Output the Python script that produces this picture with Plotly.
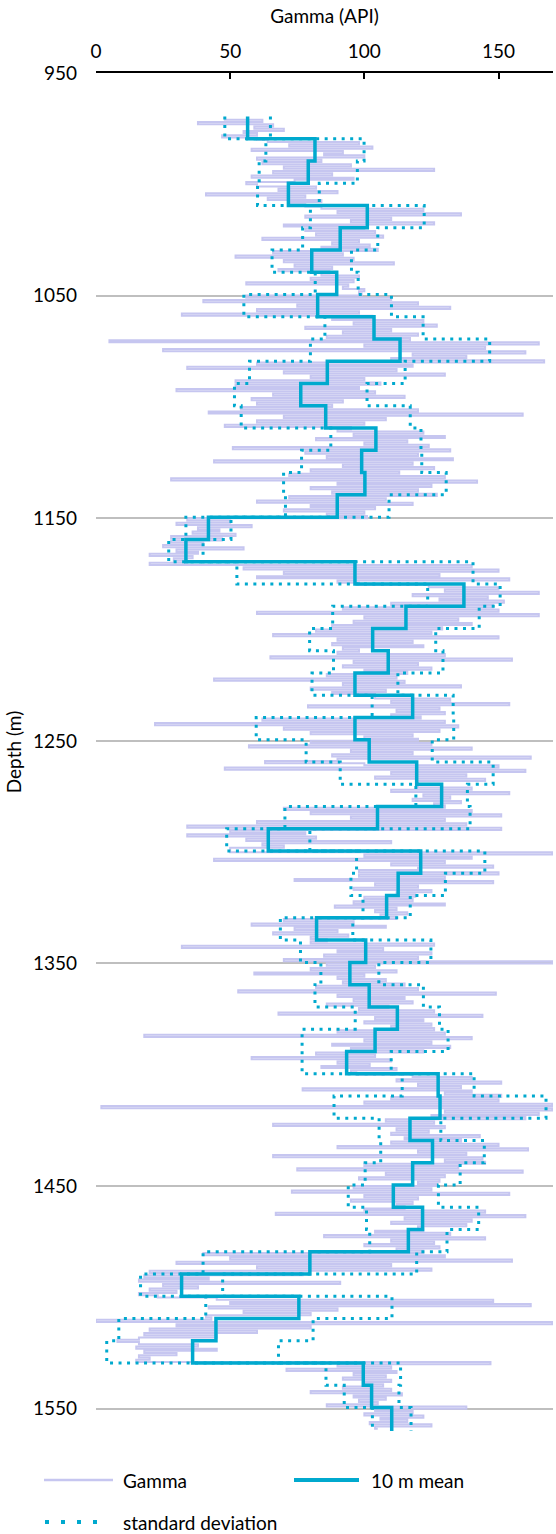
import numpy as np
import plotly.graph_objects as go

# ---------------- data ----------------
# top depth of each 10 m averaging interval (m)
interval_top_m = [969.5 + 10 * k for k in range(59)]
interval_bottom_m = 1561.0

mean_api = [56.5, 81.6, 79.1, 71.7, 101.1, 91.0, 80.4, 89.7,
            82.6, 103.6, 113.3, 86.2, 76.3, 85.6, 104.3, 99.0, 100.2, 89.9,
            41.9, 33.5, 96.5, 137.1, 115.5, 103.1, 108.9, 96.5, 118.0, 96.5,
            101.8, 119.5, 128.8, 104.9, 64.2, 121.0, 112.6, 108.3, 82.2, 100.5,
            94.6, 101.8, 112.3, 104.0, 93.4, 127.5, 128.2, 117.0, 125.4, 118.0,
            110.8, 121.7, 116.4, 79.7, 31.9, 75.6, 44.7, 36.0, 99.6, 102.7, 110.2]

std_api = [8.5, 18.3, 18.3, 11.5, 21.2, 14.0, 14.8, 8.0,
           27.5, 18.3, 33.4, 29.0, 24.7, 31.5, 16.8, 22.4, 30.3, 19.3,
           8.4, 6.4, 44.0, 13.5, 27.3, 23.5, 20.4, 16.0, 15.1, 36.8,
           23.5, 28.5, 9.6, 34.5, 15.5, 23.9, 17.6, 8.8, 13.5, 24.3,
           10.8, 20.2, 15.7, 27.2, 16.6, 13.4, 39.5, 11.5, 19.3, 17.7,
           16.8, 20.9, 14.4, 39.8, 15.3, 34.7, 36.2, 32.0, 13.9, 10.2, 7.2]

# gamma log, one row per 10 m interval, sampled every 1 m
gamma_api = [
    48, 62, 38, 66, 59, 70, 55, 60, 47, 60,
    64, 98, 72, 103, 58, 92, 85, 100, 60, 84,
    62, 95, 70, 126, 66, 88, 58, 96, 74, 56,
    60, 82, 68, 90, 41, 78, 64, 84, 72, 78,
    84, 122, 90, 136, 78, 110, 95, 126, 70, 100,
    78, 104, 82, 107, 62, 98, 88, 102, 84, 105,
    66, 92, 52, 96, 70, 111, 74, 88, 68, 87,
    84, 98, 80, 96, 56, 94, 92, 100, 98, 99,
    56, 110, 40, 120, 75, 132, 60, 98, 32, 103,
    88, 122, 96, 127, 78, 110, 92, 120, 86, 117,
    5, 165, 100, 145, 25, 160, 118, 138, 110, 167,
    60, 118, 34, 112, 70, 130, 80, 100, 52, 106,
    52, 98, 30, 104, 66, 115, 58, 92, 60, 88,
    54, 120, 42, 159, 70, 108, 60, 100, 48, 95,
    90, 122, 96, 130, 82, 116, 100, 124, 51, 132,
    78, 120, 86, 133, 44, 118, 92, 126, 80, 113,
    72, 130, 28, 142, 90, 125, 80, 120, 88, 127,
    72, 108, 60, 118, 80, 104, 70, 100, 86, 101,
    34, 50, 30, 58, 38, 46, 36, 52, 28, 47,
    28, 40, 25, 55, 30, 38, 20, 36, 29, 34,
    20, 140, 55, 150, 70, 128, 60, 154, 90, 98,
    124, 150, 130, 165, 118, 146, 128, 152, 110, 148,
    92, 150, 60, 165, 100, 135, 96, 140, 88, 129,
    82, 125, 66, 150, 90, 118, 88, 122, 92, 98,
    90, 130, 65, 155, 96, 120, 92, 125, 100, 116,
    86, 112, 44, 115, 92, 136, 80, 108, 88, 104,
    104, 132, 110, 154, 79, 128, 112, 130, 110, 121,
    62, 130, 22, 135, 70, 128, 80, 118, 100, 120,
    80, 125, 57, 140, 95, 118, 88, 162, 90, 63,
    100, 150, 48, 160, 110, 138, 104, 145, 120, 120,
    120, 140, 110, 154, 122, 132, 118, 136, 126, 130,
    70, 140, 80, 151, 95, 130, 60, 138, 34, 151,
    50, 78, 34, 82, 56, 110, 62, 70, 50, 50,
    170, 100, 140, 44, 130, 110, 148, 120, 98, 150,
    98, 130, 74, 148, 104, 120, 96, 125, 112, 119,
    100, 118, 96, 130, 89, 112, 104, 116, 106, 112,
    70, 96, 58, 108, 74, 90, 66, 94, 80, 86,
    80, 126, 32, 107, 90, 125, 85, 120, 70, 170,
    86, 104, 80, 112, 59, 100, 90, 108, 92, 115,
    82, 120, 53, 149, 90, 115, 96, 118, 86, 109,
    98, 126, 68, 144, 104, 122, 100, 125, 110, 126,
    90, 130, 18, 140, 100, 125, 88, 132, 95, 122,
    82, 104, 58, 110, 90, 102, 84, 112, 95, 97,
    118, 140, 112, 151, 120, 136, 77, 140, 130, 151,
    110, 150, 100, 170, 2, 170, 130, 165, 125, 160,
    108, 126, 66, 130, 112, 124, 110, 143, 115, 136,
    110, 150, 90, 161, 120, 138, 66, 144, 130, 145,
    100, 135, 75, 159, 108, 130, 98, 128, 120, 127,
    96, 125, 73, 154, 100, 120, 95, 118, 112, 115,
    100, 145, 67, 160, 115, 140, 110, 138, 120, 122,
    104, 132, 85, 145, 110, 126, 100, 128, 112, 122,
    40, 130, 50, 155, 30, 110, 60, 125, 20, 77,
    18, 42, 16, 91, 25, 38, 20, 30, 16, 23,
    45, 148, 50, 162, 42, 90, 55, 80, 41, 43,
    0, 170, 30, 80, 20, 60, 18, 45, 16, 8,
    16, 38, 15, 45, 18, 30, 16, 20, 15, 147,
    90, 110, 71, 112, 96, 108, 92, 110, 100, 107,
    92, 110, 80, 114, 96, 108, 98, 105, 86, 138,
    104, 118, 100, 122, 106, 116, 102, 125, 104, 105,
]
gamma_depth_m = np.arange(970.0, 970.0 + len(gamma_api), 1.0)

x_ticks = [0, 50, 100, 150]
depth_ticks = [950, 1050, 1150, 1250, 1350, 1450, 1550]

# ---------------- styling ----------------
W, H = 556, 1534
ML, MR, MT, MB = 96, 3, 73, 103
FONT = "Lato, 'Open Sans', sans-serif"
FS = 19
GAMMA_C = "#C6C6F0"
MEAN_C = "#00A9CE"

step_depth = interval_top_m + [interval_bottom_m]
step_mean = mean_api + [mean_api[-1]]
upper = [m + s for m, s in zip(mean_api, std_api)]
lower = [m - s for m, s in zip(mean_api, std_api)]
step_upper = upper + [upper[-1]]
step_lower = lower + [lower[-1]]

fig = go.Figure()
fig.add_trace(go.Scatter(x=gamma_api, y=gamma_depth_m, mode="lines", name="Gamma",
                         line=dict(color=GAMMA_C, width=2.0, shape="vh")))
fig.add_trace(go.Scatter(x=step_lower, y=step_depth, mode="lines", name="standard deviation",
                         line=dict(color=MEAN_C, width=3, dash="3px,5.5px", shape="vh")))
fig.add_trace(go.Scatter(x=step_upper, y=step_depth, mode="lines", showlegend=False,
                         line=dict(color=MEAN_C, width=3, dash="3px,5.5px", shape="vh")))
fig.add_trace(go.Scatter(x=step_mean, y=step_depth, mode="lines", name="10 m mean",
                         line=dict(color=MEAN_C, width=3.5, shape="vh")))

fig.update_layout(
    width=W, height=H, margin=dict(l=ML, r=MR, t=MT, b=MB, pad=0),
    paper_bgcolor="white", plot_bgcolor="white", showlegend=False,
    font=dict(family=FONT, size=FS, color="#000000"),
)
fig.update_xaxes(
    side="top", range=[0, 170.3], tickvals=x_ticks, ticks="inside", ticklen=6,
    tickwidth=1.5, tickcolor="black", showline=True, linecolor="black", linewidth=1.5,
    showgrid=False, zeroline=False, ticklabelstandoff=6,
    title=dict(text="Gamma (API)", standoff=10, font=dict(size=FS)),
)
fig.update_yaxes(
    range=[1560, 950], tickvals=depth_ticks, ticks="", showline=False,
    showgrid=True, gridcolor="#BFBFBF", gridwidth=1.5, zeroline=False,
    ticklabelstandoff=18,
    title=dict(text="Depth (m)", standoff=6, font=dict(size=FS)),
)

# legend drawn below the plot (pixel layout of the reference)
PW, PH = W - ML - MR, H - MT - MB
def px(x):
    return (x - ML) / PW
def py(y):
    return (H - MB - y) / PH

legend_rows = [
    ("Gamma", 44, 113, 121, 1480, dict(color=GAMMA_C, width=2.5)),
    ("10 m mean", 294, 359, 369, 1480, dict(color=MEAN_C, width=4)),
    ("standard deviation", 45, 99, 121, 1522, dict(color=MEAN_C, width=4, dash="4px,12px")),
]
for text, x0, x1, xt, yy, ln in legend_rows:
    fig.add_shape(type="line", xref="paper", yref="paper", x0=px(x0), x1=px(x1),
                  y0=py(yy), y1=py(yy), line=ln)
    fig.add_annotation(xref="paper", yref="paper", x=px(xt), y=py(yy), text=text,
                       showarrow=False, xanchor="left", yanchor="middle",
                       font=dict(size=FS, family=FONT, color="black"))

fig.write_html("out.html")
